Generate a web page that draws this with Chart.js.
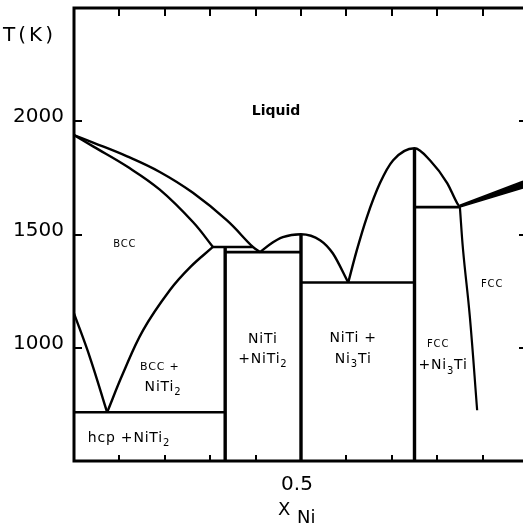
<!DOCTYPE html>
<html>
<head>
<meta charset="utf-8">
<script src="https://cdn.jsdelivr.net/npm/chart.js@4.4.0/dist/chart.umd.min.js"></script>
<style>
  html, body { margin: 0; padding: 0; background: #fff; }
  #wrap { width: 523px; height: 530px; position: relative; }
</style>
</head>
<body>
<div id="wrap"><canvas id="c"></canvas></div>
<script>
// Ni-Ti phase diagram. x = mole fraction Ni, T in K
const bccLiquidus = [[0,1939],[0.042,1906],[0.117,1845],[0.189,1776],[0.262,1684],[0.337,1562],[0.394,1445],[0.410,1422]]
const bccSolidus = [[0,1939],[0.042,1889],[0.117,1800],[0.189,1698],[0.262,1555],[0.306,1445]]
const bccSolvus = [[0.073,715],[0.108,887],[0.152,1077],[0.211,1254],[0.256,1356],[0.306,1445]]
const hcpBoundary = [[0,1152],[0.035,958],[0.073,715]]
const nitiLiquidus = [[0.410,1422],[0.432,1457],[0.460,1488],[0.5,1501],[0.542,1475],[0.570,1417],[0.604,1288]]
const ni3tiLiquidus = [[0.604,1288],[0.623,1431],[0.645,1576],[0.674,1727],[0.703,1828],[0.75,1881],[0.784,1828],[0.822,1727],[0.844,1638],[0.850,1621]]
const fccLiquidus = [[0.850,1629],[0.989,1735]]
const fccSolidus = [[0.850,1621],[0.989,1705]]
const fccSolvus = [[0.850,1621],[0.857,1431],[0.872,1135],[0.888,724]]
// horizontal invariant lines: [x from, x to, T]
const invariants = [[0,0.333,715],[0.306,0.394,1445],[0.333,0.5,1422],[0.5,0.75,1288],[0.75,0.850,1621]]
// line compounds NiTi2, NiTi, Ni3Ti: [x, T at top]
const compounds = [[0.333,1445],[0.5,1501],[0.75,1881]]

const tMin = 500, tMax = 2500
const xMax = 0.989
const yTicks = [1000, 1500, 2000]
const xTickLabels = [0.5]
const xMinor = [0.1, 0.2, 0.3, 0.4, 0.5, 0.6, 0.7, 0.8, 0.9]

// phase field names, parts after the first alternate sub / normal
const phaseLabels = [
  { parts: ['Liquid'], x: 0.445, t: 2049, font: 'bold 14px DejaVu Sans', sp: 0 },
  { parts: ['BCC'], x: 0.112, t: 1462, font: '10px DejaVu Sans' },
  { parts: ['BCC +'], x: 0.189, t: 918, font: '11px DejaVu Sans' },
  { parts: ['NiTi', '2'], x: 0.196, t: 830 },
  { parts: ['hcp +NiTi', '2'], x: 0.121, t: 605 },
  { parts: ['NiTi'], x: 0.416, t: 1042 },
  { parts: ['+NiTi', '2'], x: 0.416, t: 954 },
  { parts: ['NiTi +'], x: 0.615, t: 1047 },
  { parts: ['Ni', '3', 'Ti'], x: 0.615, t: 954 },
  { parts: ['FCC'], x: 0.802, t: 1020, font: '10px DejaVu Sans' },
  { parts: ['+Ni', '3', 'Ti'], x: 0.813, t: 927 },
  { parts: ['FCC'], x: 0.921, t: 1285, font: '10px DejaVu Sans' }
]

const pts = arr => arr.map(p => ({ x: p[0], y: p[1] }))
const line = (arr, w) => ({
  data: pts(arr), borderColor: '#000', borderWidth: w || 2.4,
  pointRadius: 0, showLine: true, tension: 0, fill: false
})
const smooth = (arr, w) => Object.assign(line(arr, w), { tension: 0.4 })
const dome = (arr, w) => Object.assign(line(arr, w), { cubicInterpolationMode: 'monotone' })

const datasets = [
  smooth(bccLiquidus),
  smooth(bccSolidus),
  smooth(bccSolvus),
  smooth(hcpBoundary),
  dome(nitiLiquidus),
  dome(ni3tiLiquidus),
  smooth(fccSolvus, 2.2),
  line(fccLiquidus, 1.5)
]
// solidus of the fcc wedge, filled up to the liquidus just above it
const fccSol = line(fccSolidus, 1.5)
fccSol.fill = { target: datasets.length - 1 }
fccSol.backgroundColor = '#000'
datasets.push(fccSol)
invariants.forEach(h => datasets.push(line([[h[0], h[2]], [h[1], h[2]]], 2.6)))
compounds.forEach(c => datasets.push(line([[c[0], c[1]], [c[0], tMin]], 3.4)))

function drawParts(ctx, parts, cx, base, font) {
  const size = parseFloat(font.match(/(\d+)px/)[1])
  const subFont = font.replace(/\d+px/, Math.round(size * 0.72) + 'px')
  let w = 0
  parts.forEach((p, i) => { ctx.font = i % 2 ? subFont : font; w += ctx.measureText(p).width })
  let px = cx - w / 2
  parts.forEach((p, i) => {
    ctx.font = i % 2 ? subFont : font
    ctx.fillText(p, px, i % 2 ? base + size * 0.3 : base)
    px += ctx.measureText(p).width
  })
}

const axisDecor = {
  id: 'axisDecor',
  afterDatasetsDraw(chart) {
    const { ctx, chartArea: a, scales: { x, y } } = chart
    ctx.save()
    ctx.strokeStyle = '#000'
    ctx.fillStyle = '#000'
    // frame: the right side is cut off in the scan
    ctx.lineWidth = 3
    ctx.beginPath()
    ctx.moveTo(a.right, a.top); ctx.lineTo(a.left, a.top)
    ctx.lineTo(a.left, a.bottom); ctx.lineTo(a.right, a.bottom)
    ctx.stroke()

    // inward ticks
    ctx.lineWidth = 2
    ctx.beginPath()
    xMinor.forEach(v => {
      const px = Math.round(x.getPixelForValue(v))
      ctx.moveTo(px, a.top); ctx.lineTo(px, a.top + 8)
      ctx.moveTo(px, a.bottom); ctx.lineTo(px, a.bottom - 6)
    })
    yTicks.forEach(v => {
      const py = Math.round(y.getPixelForValue(v))
      ctx.moveTo(a.left, py); ctx.lineTo(a.left + 8, py)
      ctx.moveTo(a.right, py); ctx.lineTo(a.right - 4, py)
    })
    ctx.stroke()

    // tick labels
    ctx.font = '20px DejaVu Sans'
    ctx.textBaseline = 'alphabetic'
    ctx.textAlign = 'right'
    yTicks.forEach(v => ctx.fillText(String(v), a.left - 10, y.getPixelForValue(v) + 1))
    ctx.textAlign = 'center'
    xTickLabels.forEach(v => ctx.fillText(String(v), x.getPixelForValue(v) - 4, a.bottom + 29))

    // axis titles
    ctx.textAlign = 'left'
    ctx.letterSpacing = '3px'
    ctx.fillText('T(K)', 3, 41)
    ctx.letterSpacing = '0px'
    ctx.font = '18px DejaVu Sans'
    ctx.fillText('X', 278, 515)
    ctx.fillText('Ni', 297, 523)

    // phase fields
    phaseLabels.forEach(l => {
      const font = l.font || '14px DejaVu Sans'
      const size = parseFloat(font.match(/(\d+)px/)[1])
      ctx.letterSpacing = (l.sp === undefined ? 0.8 : l.sp) + 'px'
      drawParts(ctx, l.parts, x.getPixelForValue(l.x), y.getPixelForValue(l.t) + size * 0.36, font)
    })
    ctx.restore()
  }
}

new Chart(document.getElementById('c'), {
  type: 'scatter',
  data: { datasets: datasets },
  options: {
    responsive: true,
    maintainAspectRatio: false,
    animation: false,
    layout: { padding: { left: 74, top: 8, right: 0, bottom: 69 } },
    scales: {
      x: { type: 'linear', min: 0, max: xMax, display: false },
      y: { type: 'linear', min: tMin, max: tMax, display: false }
    },
    plugins: { legend: { display: false }, tooltip: { enabled: false } }
  },
  plugins: [axisDecor]
})
</script>
</body>
</html>
